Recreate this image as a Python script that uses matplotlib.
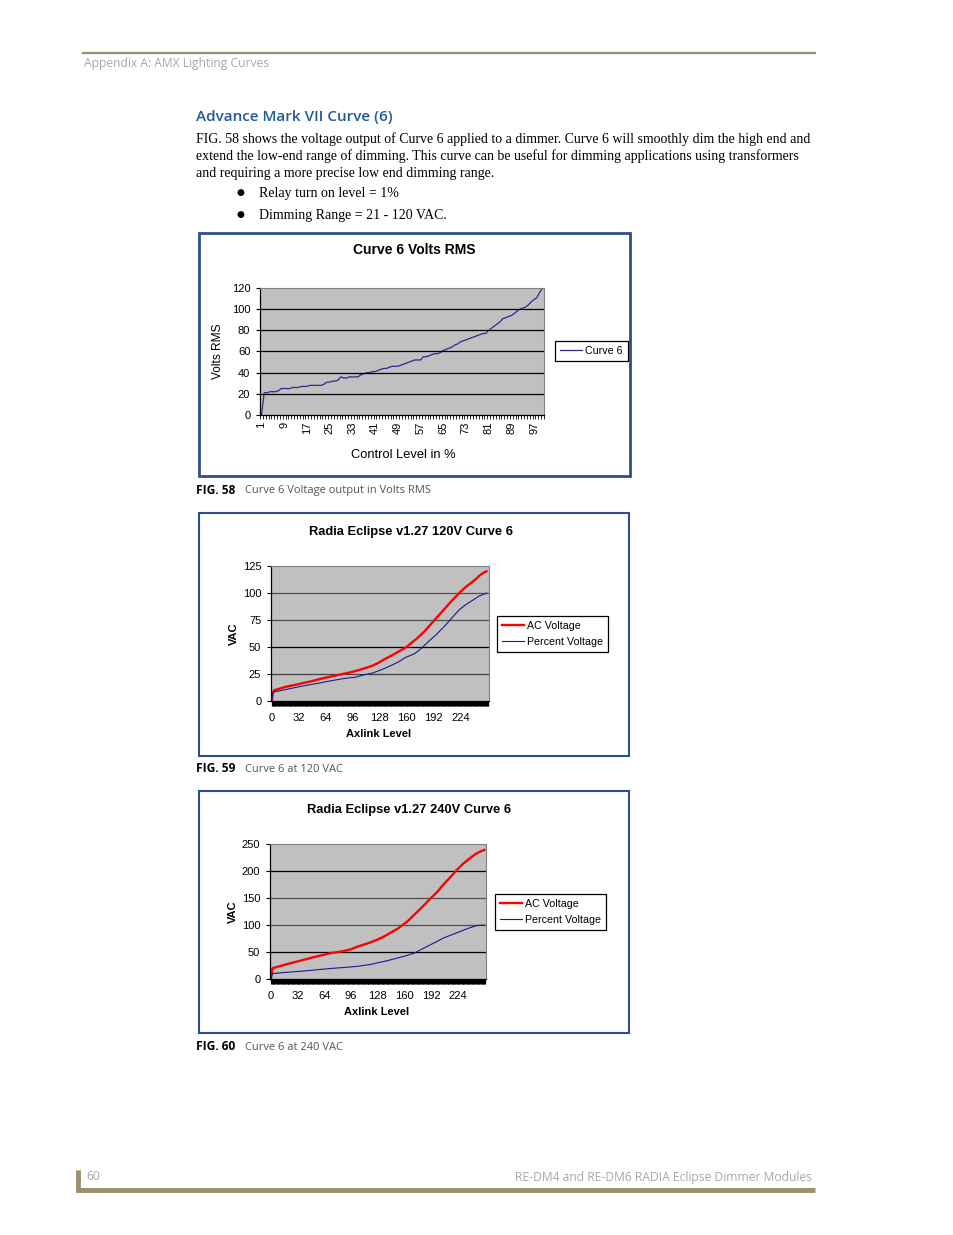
import matplotlib
matplotlib.use("Agg")
import matplotlib.pyplot as plt
from matplotlib.patches import Rectangle
from matplotlib.lines import Line2D

W, H = 954, 1235

# chart 1: Curve 6 Volts RMS, control level 1..100 %
levels_pct = list(range(1, 101))
volts_rms = [0, 21, 21, 22, 22, 22, 23, 25, 25, 25,
             25, 26, 26, 26, 27, 27, 27, 28, 28, 28,
             28, 28, 29, 31, 31, 32, 32, 33, 36, 35,
             35, 36, 36, 36, 36, 38, 39, 40, 40, 41,
             41, 42, 43, 44, 44, 45, 46, 46, 46, 47,
             48, 49, 50, 51, 52, 52, 52, 55, 55, 56,
             57, 58, 58, 59, 61, 62, 63, 64, 66, 67,
             69, 70, 71, 72, 73, 74, 75, 76, 77, 77,
             80, 82, 84, 86, 88, 91, 92, 93, 94, 96,
             98, 100, 101, 102, 104, 107, 109, 111, 116, 120]
pct_ticks = list(range(1, 101, 8))

# chart 2: 120V, axlink level 0..255
ax120_lvl = [0, 1, 3, 16, 31, 48, 59, 72, 83, 96, 103, 111, 119, 127, 134, 142,
             150, 160, 174, 182, 190, 198, 206, 214, 224, 231, 238, 244, 248, 252, 255]
ac120 = [0, 8, 10, 13, 15.5, 18.5, 20.7, 23, 24.8, 27, 28.5, 30.5, 32.5, 35.5, 38.7, 42,
         45.5, 50, 59, 65, 72, 79, 86, 93, 101, 106, 110, 114, 117, 119, 120]
pct120_lvl = [0, 1, 3, 16, 31, 48, 59, 72, 87, 99, 111, 120, 127, 135, 142, 150,
              158, 170, 178, 186, 196, 206, 214, 222, 230, 238, 246, 252, 255]
pct120 = [0, 7, 8.5, 10.5, 13, 15.5, 17, 19, 21, 22, 24.5, 26, 28, 30.5, 33, 36,
          40, 44, 49, 55, 62, 70, 77, 84, 89, 93, 97, 99, 100]

# chart 3: 240V
ax240_lvl = [0, 2, 16, 33, 48, 61, 72, 85, 96, 104, 112, 120, 128, 136, 144, 152,
             164, 172, 180, 192, 200, 207, 215, 223, 231, 239, 245, 251, 256]
ac240 = [0, 20, 26, 33, 39, 44, 48, 51, 55, 60, 64, 68, 73, 79, 86, 93,
         107, 119, 131, 150, 162, 175, 188, 202, 214, 224, 231, 236, 239]
pct240_lvl = [0, 2, 16, 33, 48, 61, 72, 85, 104, 120, 128, 140, 152, 162, 172, 182,
              192, 200, 207, 217, 227, 237, 247, 256]
pct240 = [0, 10, 12, 14, 16, 18, 19.5, 21, 23.5, 27, 30, 34, 39, 43, 48, 56,
          64, 70, 76, 82, 88, 94, 99, 100]

axlink_ticks = list(range(0, 256, 32))

SANS = ["Liberation Sans", "DejaVu Sans"]
BLUE = "#2c4f8a"
GOLD = "#9b8f6e"

fig = plt.figure(figsize=(W / 100, H / 100), dpi=100)


def px_axes(x0, y0, x1, y1):
    return fig.add_axes([x0 / W, 1 - y1 / H, (x1 - x0) / W, (y1 - y0) / H])


def ftext(x, y, s, **kw):
    fig.text(x / W, 1 - y / H, s, **kw)


def frame(x0, y0, x1, y1, lw=1.5):
    fig.patches.append(Rectangle((x0 / W, 1 - y1 / H), (x1 - x0) / W, (y1 - y0) / H,
                                 transform=fig.transFigure, fill=False,
                                 edgecolor=BLUE, linewidth=lw))


def style_plot(ax):
    ax.set_facecolor("#c0c0c0")
    for s in ("top", "right"):
        ax.spines[s].set_color("#808080")
        ax.spines[s].set_linewidth(0.8)
    for s in ("left", "bottom"):
        ax.spines[s].set_color("black")
        ax.spines[s].set_linewidth(0.9)
    ax.tick_params(axis="y", length=3, width=0.8, labelsize=8, pad=4)
    for lab in ax.get_yticklabels():
        lab.set_family(SANS)


def legend_box(x, y, handles, labels):
    lg = fig.legend(handles, labels, loc="upper left", bbox_to_anchor=(x / W, 1 - y / H),
                    frameon=True, fancybox=False, edgecolor="black", framealpha=1,
                    prop={"family": SANS, "size": 7.7}, handlelength=2.1,
                    handletextpad=0.3, borderpad=0.45, labelspacing=0.6,
                    borderaxespad=0)
    lg.get_frame().set_linewidth(0.9)


# ---- page header ----
fig.add_artist(Line2D([83 / W, 815 / W], [1 - 53 / H] * 2, color=GOLD, lw=1.6))
ftext(84, 63, "Appendix A: AMX Lighting Curves", fontsize=8.7, color="#a8a8a8",
      family="Open Sans", va="center")
ftext(196, 117, "Advance Mark VII Curve (6)", fontsize=11, color="#1f5a99",
      family="Open Sans", weight="semibold", va="center")

body = ["FIG. 58 shows the voltage output of Curve 6 applied to a dimmer. Curve 6 will smoothly dim the high end and",
        "extend the low-end range of dimming. This curve can be useful for dimming applications using transformers",
        "and requiring a more precise low end dimming range."]
for i, line in enumerate(body):
    ftext(196, 139 + i * 17, line, fontsize=10, family="Liberation Serif", va="center")
for y, line in [(193, "Relay turn on level = 1%"), (215, "Dimming Range = 21 - 120 VAC.")]:
    ftext(237, y, "\u25cf", fontsize=6.5, family="DejaVu Sans", va="center")
    ftext(259, y, line, fontsize=10, family="Liberation Serif", va="center")

# ---- chart 1 ----
frame(199, 233, 630, 476, lw=2)
ax1 = px_axes(260, 288, 544, 415)
style_plot(ax1)
ax1.plot(levels_pct, volts_rms, color="#2a2a8c", lw=0.9)
ax1.set_xlim(0.5, 100.5)
ax1.set_ylim(0, 120)
ax1.set_yticks(range(0, 121, 20))
for v in range(20, 120, 20):
    ax1.axhline(v, color="black", lw=0.9)
ax1.set_xticks(pct_ticks)
ax1.set_xticks([i + 0.5 for i in range(0, 101)], minor=True)
ax1.tick_params(axis="x", which="major", length=0, labelsize=8, pad=5, labelrotation=90)
ax1.tick_params(axis="x", which="minor", length=3, width=0.6)
for lab in ax1.get_xticklabels():
    lab.set_family(SANS)
ftext(414, 250, "Curve 6 Volts RMS", fontsize=10, weight="bold", family=SANS,
      ha="center", va="center")
ftext(218, 351, "Volts RMS", fontsize=8.6, family=SANS, rotation=90,
      ha="center", va="center")
ftext(403, 455, "Control Level in %", fontsize=9.3, family=SANS, ha="center", va="center")
legend_box(555, 341, [Line2D([], [], color="#2a2a8c", lw=0.9)], ["Curve 6"])
ftext(196, 490, "FIG. 58", fontsize=8.6, weight="bold", family="Open Sans", va="center")
ftext(245, 490, "Curve 6 Voltage output in Volts RMS", fontsize=8, color="#555555",
      family="Open Sans", va="center")


def axlink_chart(box, plot, title, title_xy, vmax, grid_cols, ac_x, ac_y, p_x, p_y,
                 leg_xy, cap_y, fig_no, cap):
    frame(*box)
    ax = px_axes(*plot)
    style_plot(ax)
    step = vmax // 5
    for v, c in zip(range(step, vmax, step), grid_cols):
        ax.axhline(v, color=c, lw=0.9)
    ax.plot(ac_x, ac_y, color="#ff0000", lw=1.7)
    ax.plot(p_x, p_y, color="#1a1a8c", lw=0.8)
    ax.set_xlim(-1, 258)
    ax.set_ylim(0, vmax)
    ax.set_yticks(range(0, vmax + 1, step))
    ax.set_xticks(axlink_ticks)
    ax.set_xticks(range(0, 258), minor=True)
    ax.tick_params(axis="x", which="both", length=3.5, width=0.9, labelsize=8, pad=5)
    for lab in ax.get_xticklabels() + ax.get_yticklabels():
        lab.set_family(SANS)
    left = plot[0]
    ftext(title_xy[0], title_xy[1], title, fontsize=9.3, family=SANS, weight="semibold",
          ha="center", va="center")
    ftext(left - 37, (plot[1] + plot[3]) / 2, "VAC", fontsize=8, family=SANS,
          weight="bold", rotation=90, ha="center", va="center")
    ftext((plot[0] + plot[2]) / 2 - 1, plot[3] + 33, "Axlink Level", fontsize=8,
          family=SANS, weight="bold", ha="center", va="center")
    legend_box(leg_xy[0], leg_xy[1],
               [Line2D([], [], color="#ff0000", lw=1.7), Line2D([], [], color="#1a1a8c", lw=0.8)],
               ["AC Voltage", "Percent Voltage"])
    ftext(196, cap_y, fig_no, fontsize=8.6, weight="bold", family="Open Sans", va="center")
    ftext(245, cap_y, cap, fontsize=8, color="#555555", family="Open Sans", va="center")


axlink_chart((199, 513, 629, 756), (271, 566, 489, 701), "Radia Eclipse v1.27 120V Curve 6",
             (411, 532), 125, ["#404040", "black", "#505050", "#505050"],
             ax120_lvl, ac120, pct120_lvl, pct120, (497, 616), 769, "FIG. 59",
             "Curve 6 at 120 VAC")
axlink_chart((199, 791, 629, 1033), (270, 844, 486, 979), "Radia Eclipse v1.27 240V Curve 6",
             (409, 810), 250, ["black", "#505050", "#505050", "black"],
             ax240_lvl, ac240, pct240_lvl, pct240, (495, 894), 1047, "FIG. 60",
             "Curve 6 at 240 VAC")

# ---- footer ----
fig.add_artist(Line2D([76 / W, 815 / W], [1 - 1190 / H] * 2, color=GOLD, lw=3.5,
                      solid_capstyle="butt"))
fig.add_artist(Line2D([78 / W, 78 / W], [1 - 1170 / H, 1 - 1192 / H], color=GOLD, lw=3.5,
                      solid_capstyle="butt"))
ftext(86, 1177, "60", fontsize=8.7, color="#a8a8a8", family="Open Sans", va="center")
ftext(812, 1177, "RE-DM4 and RE-DM6 RADIA Eclipse Dimmer Modules", fontsize=8.7,
      color="#a8a8a8", family="Open Sans", ha="right", va="center")

fig.savefig("out.png", dpi=100)
